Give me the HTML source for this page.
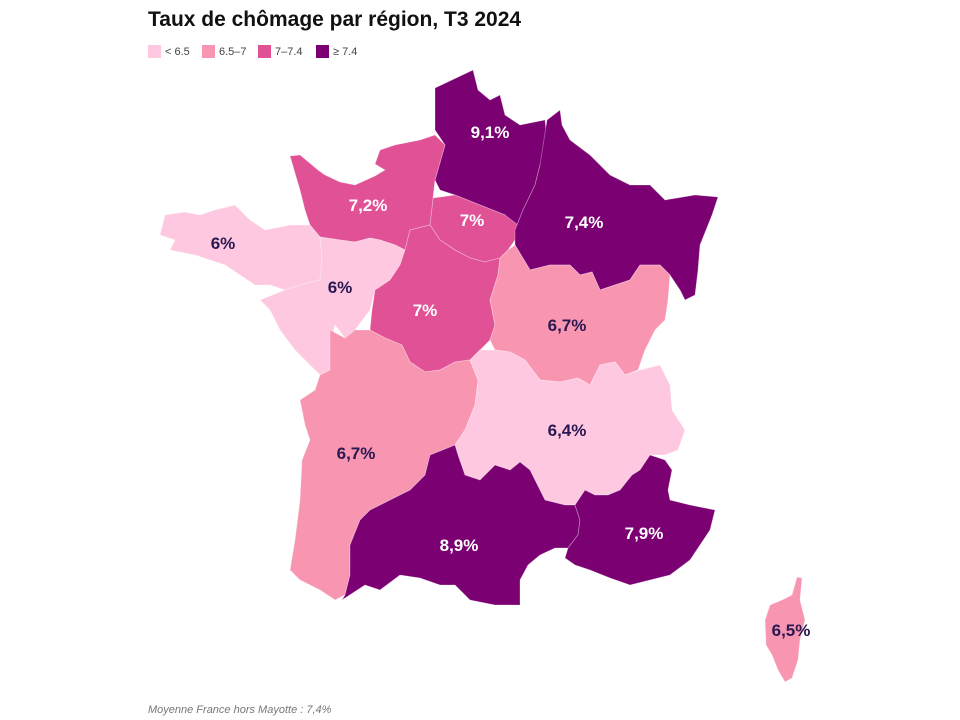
<!DOCTYPE html>
<html><head><meta charset="utf-8"><style>
body{margin:0;width:960px;height:720px;background:#fff;font-family:"Liberation Sans",sans-serif;overflow:hidden}
#title{position:absolute;left:148px;top:8px;font-size:21px;font-weight:bold;color:#111}
.leg{position:absolute;top:45px;font-size:11px;color:#444;display:flex;align-items:center}
.leg span{display:inline-block;width:13px;height:13px;margin-right:4px}
#foot{position:absolute;left:148px;top:704px;font-size:11px;font-style:italic;color:#777}
svg{position:absolute;left:0;top:0}
</style></head><body>
<div id="title">Taux de chômage par région, T3 2024</div>
<div class="leg" style="left:148px"><span style="background:#fec8e1"></span>&lt; 6.5</div>
<div class="leg" style="left:202px"><span style="background:#f896b2"></span>6.5–7</div>
<div class="leg" style="left:258px"><span style="background:#e05195"></span>7–7.4</div>
<div class="leg" style="left:316px"><span style="background:#7b0072"></span>≥ 7.4</div>
<svg id="map" width="960" height="720"></svg>
<div id="foot">Moyenne France hors Mayotte : 7,4%</div>
<script>
const regions=["hauts-de-france","ile-de-france","grand-est","normandie","bretagne","pays-de-la-loire","centre-val-de-loire","bourgogne-franche-comte","nouvelle-aquitaine","auvergne-rhone-alpes","occitanie","paca","corse"];
const values=[9.1,7.0,7.4,7.2,6.0,6.0,7.0,6.7,6.7,6.4,8.9,7.9,6.5];
const labelPos=[[490,132],[472,220],[584,222],[368,205],[223,243],[340,287],[425,310],[567,325],[356,453],[567,430],[459,545],[644,533],[791,630]];
const shapes=[
"435,88 473,70 478,90 490,100 500,95 505,115 520,125 545,120 548,150 540,165 535,185 523,210 515,230 505,215 480,205 455,195 440,190 435,180 445,145 435,130",
"433,198 455,195 480,205 505,215 518,225 515,240 508,250 500,258 485,262 470,258 455,250 440,240 430,225",
"547,120 560,110 562,125 570,140 590,155 610,175 630,185 650,185 665,200 695,195 718,197 712,215 700,245 698,270 695,295 685,300 680,290 670,275 660,265 640,265 630,280 615,285 600,290 592,272 580,275 570,265 550,265 530,270 515,245 515,230 523,210 535,185 540,165",
"290,156 300,155 312,165 318,170 325,175 340,182 355,185 375,176 385,170 375,164 380,150 395,145 420,140 435,135 445,145 435,180 433,198 430,225 410,230 405,250 395,245 380,240 370,238 355,242 340,240 320,237 310,225 305,210 300,190",
"165,215 185,212 200,215 215,210 235,205 250,220 265,230 290,225 310,225 320,237 322,260 320,280 300,285 285,290 270,285 255,285 240,275 225,265 210,260 195,255 170,250 175,240 160,235",
"320,237 340,240 355,242 370,238 380,240 395,245 405,250 400,265 390,280 375,290 370,310 355,330 345,338 335,325 330,345 330,370 320,375 310,365 295,350 280,330 270,310 260,300 285,290 300,285 320,280 322,260",
"405,250 410,230 430,225 440,240 455,250 470,258 485,262 500,258 498,275 490,300 495,325 490,340 480,350 470,360 455,362 440,370 425,372 410,362 402,345 385,338 370,330 372,310 375,290 390,280 400,265",
"500,258 508,250 515,245 530,270 550,265 570,265 580,275 592,272 600,290 615,285 630,280 640,265 660,265 670,275 668,300 665,320 655,330 645,350 638,370 625,375 615,362 600,365 590,385 578,378 560,382 540,380 525,360 510,352 495,350 490,340 495,325 490,300 498,275",
"330,330 345,338 355,330 370,330 385,338 402,345 410,362 425,372 440,370 455,362 470,360 478,380 475,405 465,430 455,445 430,455 425,475 410,490 390,500 370,510 360,520 350,545 350,575 345,595 335,600 320,590 300,580 290,570 295,540 300,500 302,460 310,440 305,425 300,400 315,390 320,375 330,370 330,345",
"470,360 480,350 495,350 510,352 525,360 540,380 560,382 578,378 590,385 600,365 615,362 625,375 640,370 660,365 670,385 672,410 685,430 678,450 665,455 650,455 640,470 632,475 620,490 608,495 595,495 585,490 575,505 565,505 545,500 530,470 520,462 510,470 495,465 480,480 465,475 458,455 455,445 465,430 475,405 478,380",
"430,455 455,445 458,455 465,475 480,480 495,465 510,470 520,462 530,470 545,500 565,505 575,505 580,520 578,535 568,548 555,548 540,555 528,565 520,580 520,605 495,605 470,600 455,585 440,585 420,578 400,575 380,590 365,585 342,600 345,595 350,575 350,545 360,520 370,510 390,500 410,490 425,475",
"575,505 585,490 595,495 608,495 620,490 632,475 640,470 650,455 665,460 672,470 668,490 670,500 690,505 715,510 710,530 700,545 690,560 670,575 650,580 630,585 610,578 590,570 575,565 565,558 568,548 578,535 580,520",
"797,577 802,578 800,600 805,620 800,640 798,660 792,678 785,682 778,670 772,655 766,645 765,620 770,605 782,600 792,595"];
function colorOf(v){return v<6.5?"#fec8e1":v<7?"#f896b2":v<7.4?"#e05195":"#7b0072";}
const svg=document.getElementById('map');const NS="http://www.w3.org/2000/svg";
regions.forEach((r,i)=>{
 const p=document.createElementNS(NS,'polygon');
 p.setAttribute('points',shapes[i]);p.setAttribute('fill',colorOf(values[i]));
 p.setAttribute('stroke','rgba(255,255,255,0.35)');p.setAttribute('stroke-width','0.8');
 
 
 svg.appendChild(p);
});
regions.forEach((r,i)=>{
 const t=document.createElementNS(NS,'text');
 t.setAttribute('x',labelPos[i][0]);t.setAttribute('y',labelPos[i][1]+6);
 t.setAttribute('text-anchor','middle');t.setAttribute('font-size','17');t.setAttribute('font-weight','bold');
 t.setAttribute('font-family','"Liberation Sans",sans-serif');
 t.setAttribute('fill',values[i]>=7?"#ffffff":"#2a1850");
 t.textContent=String(values[i]%1===0?values[i].toFixed(0):values[i].toFixed(1)).replace('.',',')+'%';
 
 
 svg.appendChild(t);
});
</script>
</body></html>
